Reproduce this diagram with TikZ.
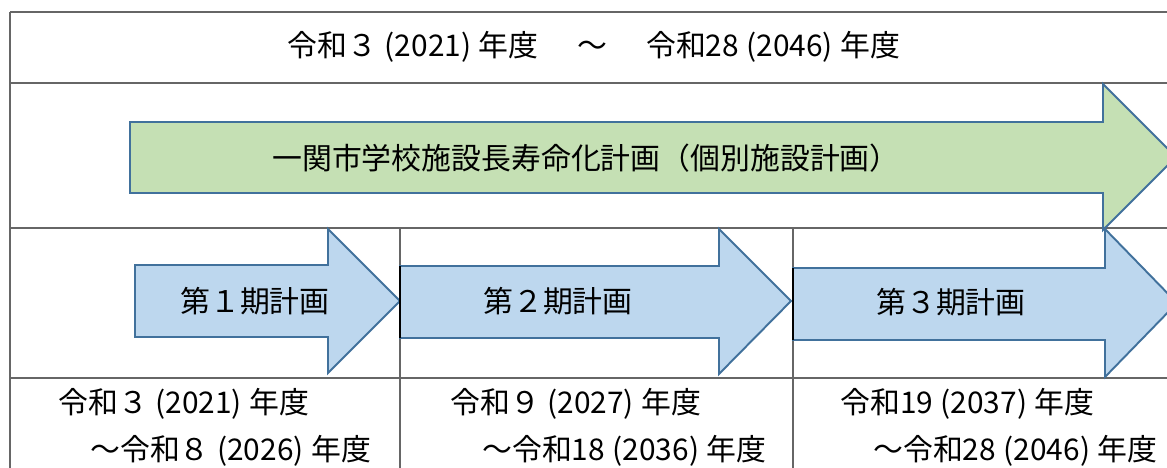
\documentclass[tikz,border=0pt]{standalone}
\usepackage{fontspec}
\setmainfont{Noto Sans CJK JP}
\usepackage{tikz}
\definecolor{planblue}{HTML}{BDD7EE}
\definecolor{plangreen}{HTML}{C5E0B4}
\definecolor{planedge}{HTML}{41719C}
\newcommand{\yearof}[1]{\hspace{0.25em}(#1)\hspace{0.25em}}

\begin{document}
\begin{tikzpicture}[scale=0.2]
\tikzstyle{every node}+=[inner sep=0pt, font=\fontsize{17}{20}\selectfont]
\tikzstyle{gridline}=[gray!80!black, line width=0.8pt]
\tikzstyle{planarrow}=[draw=planedge, line width=1.1pt, line join=miter]
\clip (0,0) rectangle (116.7,-46.8);
% table
\draw [gridline] (1.0,-1.2) -- (116.7,-1.2);
\draw [gridline] (1.0,-8.3) -- (116.7,-8.3);
\draw [gridline] (1.0,-22.8) -- (116.7,-22.8);
\draw [gridline] (1.0,-37.8) -- (116.7,-37.8);
\draw [gridline] (1.0,-1.2) -- (1.0,-46.8);
\draw [gridline] (40.0,-22.8) -- (40.0,-46.8);
\draw [gridline] (79.3,-22.8) -- (79.3,-46.8);
\node (span) at (59.4,-4.7) {令和３\yearof{2021}年度\hspace{0.3em}　～　\hspace{0.3em}令和28\yearof{2046}年度};
% whole plan
\draw [planarrow, fill=plangreen] (13.0,-12.2) -- (110.3,-12.2) -- (110.3,-8.4) -- (117.6,-15.7) -- (110.3,-23.0) -- (110.3,-19.3) -- (13.0,-19.3) -- cycle;
\node (plan) at (58.6,-15.8) {一関市学校施設長寿命化計画（個別施設計画）};
% terms
\draw [planarrow, fill=planblue] (13.5,-26.5) -- (32.8,-26.5) -- (32.8,-22.9) -- (40.0,-30.1) -- (32.8,-37.3) -- (32.8,-33.7) -- (13.5,-33.7) -- cycle;
\draw [planarrow, fill=planblue] (40.0,-26.6) -- (71.9,-26.6) -- (71.9,-22.9) -- (79.1,-30.1) -- (71.9,-37.4) -- (71.9,-33.8) -- (40.0,-33.8) -- cycle;
\draw [planarrow, fill=planblue] (79.3,-26.8) -- (110.5,-26.8) -- (110.5,-22.9) -- (117.7,-30.3) -- (110.5,-37.7) -- (110.5,-34.0) -- (79.3,-34.0) -- cycle;
\draw [black, line width=1.4pt] (40.0,-26.6) -- (40.0,-33.8);
\draw [black, line width=1.4pt] (79.3,-26.8) -- (79.3,-34.0);
\node (term1) at (25.5,-30.1) {第１期計画};
\node (term2) at (55.8,-30.1) {第２期計画};
\node (term3) at (95.1,-30.2) {第３期計画};
% years
\node [anchor=west] (from1) at (5.8,-40.4) {令和３\yearof{2021}年度};
\node [anchor=west] (to1) at (9.0,-45.1) {～令和８\yearof{2026}年度};
\node [anchor=west] (from2) at (45.0,-40.4) {令和９\yearof{2027}年度};
\node [anchor=west] (to2) at (48.2,-45.1) {～令和18\yearof{2036}年度};
\node [anchor=west] (from3) at (84.0,-40.4) {令和19\yearof{2037}年度};
\node [anchor=west] (to3) at (87.3,-45.1) {～令和28\yearof{2046}年度};
\end{tikzpicture}
\end{document}
